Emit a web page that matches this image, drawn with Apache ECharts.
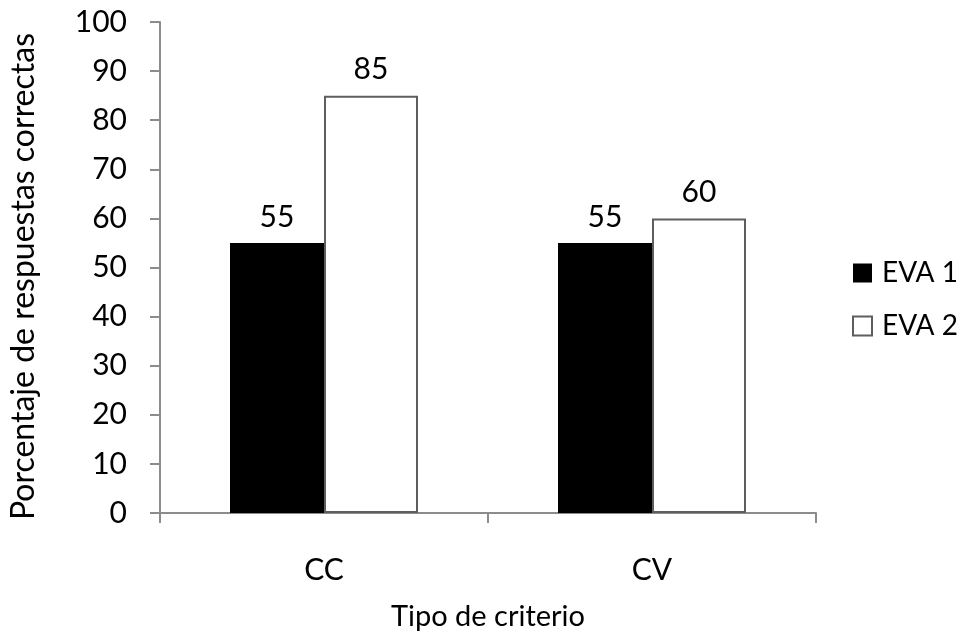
<!DOCTYPE html>
<html>
<head>
<meta charset="utf-8">
<script src="https://cdn.jsdelivr.net/npm/echarts@6/dist/echarts.min.js"></script>
<style>
  html, body { margin: 0; padding: 0; background: #fff; }
  #chart { width: 962px; height: 639px; }
</style>
</head>
<body>
<div id="chart"></div>
<script>
// Criterion types on the x axis
const categories = ['CC', 'CV'];
// Percentage of correct answers per evaluation
const eva1 = [55, 55];
const eva2 = [85, 60];
const seriesNames = ['EVA 1', 'EVA 2'];
const yTicks = { min: 0, max: 100, interval: 10 };

const FONT = 'Lato';
const chart = echarts.init(document.getElementById('chart'), null, { renderer: 'canvas' });

const labelStyle = {
  show: true,
  position: 'top',
  distance: 11,
  color: '#000',
  fontFamily: FONT,
  fontSize: 30
};

chart.setOption({
  animation: false,
  backgroundColor: '#fff',
  textStyle: { fontFamily: FONT },
  grid: { left: 160, right: 146, top: 22, bottom: 126, containLabel: false },
  legend: {
    orient: 'vertical',
    left: 852,
    top: 258,
    padding: 0,
    itemWidth: 19,
    itemHeight: 19,
    itemGap: 23,
    icon: 'rect',
    textStyle: { fontFamily: FONT, fontSize: 28, lineHeight: 30, color: '#000', padding: [0, 0, 0, 5] },
    data: seriesNames
  },
  xAxis: {
    type: 'category',
    data: categories,
    name: 'Tipo de criterio',
    nameLocation: 'middle',
    nameGap: 89,
    nameTextStyle: { fontFamily: FONT, fontSize: 29, color: '#000' },
    axisLine: { lineStyle: { color: '#8c8c8c', width: 2 } },
    axisTick: { show: true, length: 10, lineStyle: { color: '#8c8c8c', width: 2 } },
    axisLabel: { margin: 42, color: '#000', fontFamily: FONT, fontSize: 30 }
  },
  yAxis: {
    type: 'value',
    min: yTicks.min,
    max: yTicks.max,
    interval: yTicks.interval,
    name: 'Porcentaje de respuestas correctas',
    nameLocation: 'middle',
    nameGap: 120,
    // right padding nudges the rotated title slightly downward
    nameTextStyle: { fontFamily: FONT, fontSize: 32, color: '#000', padding: [0, 18, 0, 0] },
    axisLine: { show: true, lineStyle: { color: '#8c8c8c', width: 2 } },
    axisTick: { show: true, length: 10, lineStyle: { color: '#8c8c8c', width: 2 } },
    splitLine: { show: false },
    axisLabel: { margin: 33, color: '#000', fontFamily: FONT, fontSize: 30 }
  },
  series: [
    {
      name: seriesNames[0],
      type: 'bar',
      data: eva1,
      barWidth: 94,
      barGap: '0%',
      itemStyle: { color: '#000', borderColor: '#000', borderWidth: 0 },
      label: labelStyle
    },
    {
      name: seriesNames[1],
      type: 'bar',
      data: eva2,
      barWidth: 94,
      barGap: '0%',
      itemStyle: { color: '#fff', borderColor: '#5e5e5e', borderWidth: 2 },
      label: labelStyle
    }
  ]
});
</script>
</body>
</html>
